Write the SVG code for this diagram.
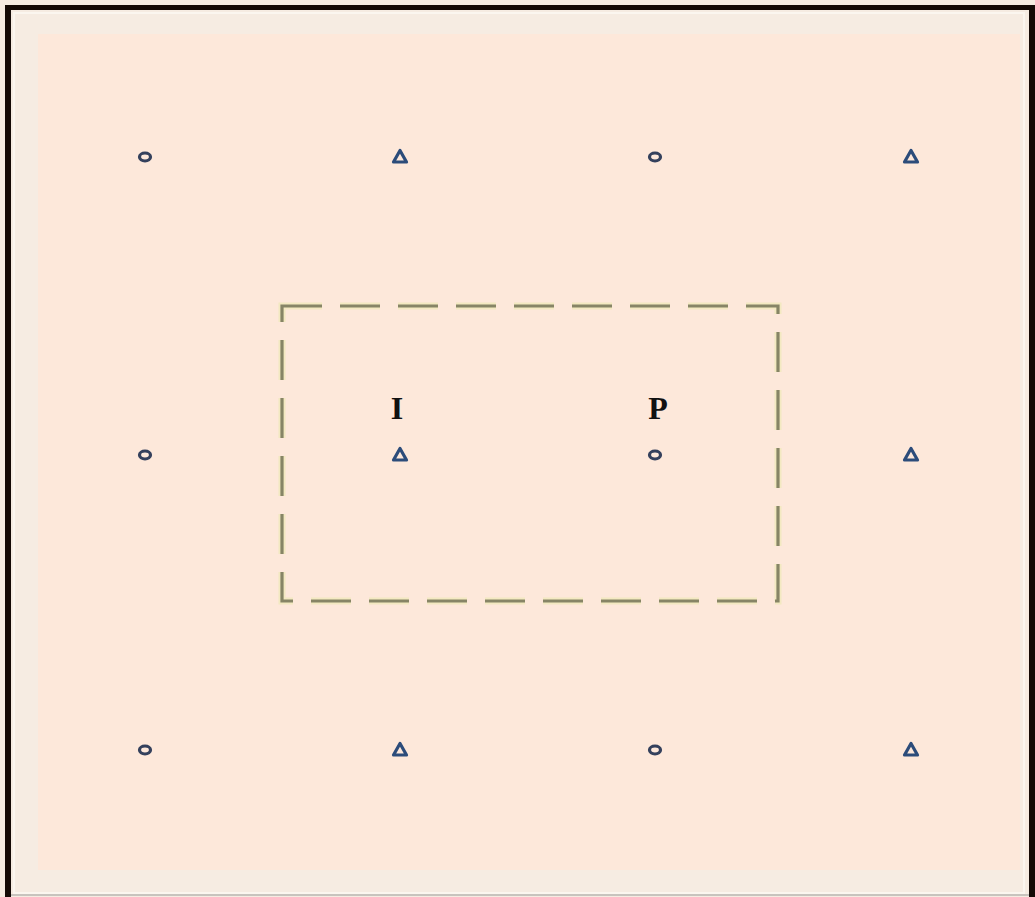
<svg xmlns="http://www.w3.org/2000/svg" width="1035" height="897" viewBox="0 0 1035 897">
<style>
.circ{fill:none;stroke:#34405c;stroke-width:3.2}
.tri{fill:none;stroke:#2c4c7a;stroke-width:3.2;stroke-linejoin:round}
.lbl{font-family:"Liberation Serif",serif;font-weight:bold;font-size:32px;fill:#111;text-anchor:middle}
</style>
<rect x="0" y="0" width="1035" height="897" fill="#f6ece2"/>
<rect x="38" y="34" width="982" height="836" fill="#fde8da"/>
<rect x="14" y="13" width="1010" height="880" fill="none" stroke="#fbf6ef" stroke-width="2"/>
<g id="frame">
<rect x="5" y="5" width="6" height="892" fill="#140a06"/>
<rect x="5" y="5" width="1030" height="5" fill="#140a06"/>
<rect x="1029" y="5" width="6" height="892" fill="#140a06"/>
<rect x="11" y="894" width="1018" height="2" fill="#c8c4be"/>
</g>
<g id="window">
<rect x="282" y="306" width="496" height="295" fill="none" stroke="#ece9b0" stroke-width="7" stroke-dasharray="40 18" stroke-opacity="0.6"/>
<rect x="282" y="306" width="496" height="295" fill="none" stroke="#878566" stroke-width="3.2" stroke-dasharray="40 18"/>
</g>
<g id="labels">
<text class="lbl" x="397" y="419">I</text>
<text class="lbl" x="658" y="419">P</text>
</g>
<g id="row1">
<ellipse class="circ" cx="145" cy="157" rx="5.5" ry="4"/>
<path class="tri" d="M400,150.5 L406.5,162 L393.5,162 Z"/>
<ellipse class="circ" cx="655" cy="157" rx="5.5" ry="4"/>
<path class="tri" d="M911,150.5 L917.5,162 L904.5,162 Z"/>
</g>
<g id="row2">
<ellipse class="circ" cx="145" cy="455" rx="5.5" ry="4"/>
<path class="tri" d="M400,448.5 L406.5,460 L393.5,460 Z"/>
<ellipse class="circ" cx="655" cy="455" rx="5.5" ry="4"/>
<path class="tri" d="M911,448.5 L917.5,460 L904.5,460 Z"/>
</g>
<g id="row3">
<ellipse class="circ" cx="145" cy="750" rx="5.5" ry="4"/>
<path class="tri" d="M400,743.5 L406.5,755 L393.5,755 Z"/>
<ellipse class="circ" cx="655" cy="750" rx="5.5" ry="4"/>
<path class="tri" d="M911,743.5 L917.5,755 L904.5,755 Z"/>
</g>
</svg>
